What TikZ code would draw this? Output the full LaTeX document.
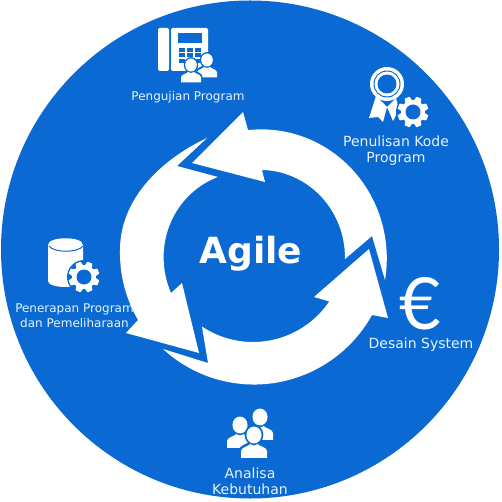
\documentclass[tikz,border=0pt]{standalone}
\usepackage{fontspec}
\setmainfont{DejaVu Sans}
\newfontfamily\eurofont{Lato}
\definecolor{agileblue}{HTML}{0B69D3}
\definecolor{labeltext}{HTML}{E8F3FF}
\tikzset{
  x=1pt,y=-1pt,
  arcto/.style n args={4}{insert path={-- plot[domain=#1:#2,samples=40,smooth] ({253+(#3+(#4-#3)*(\x-#1)/(#2-#1))*cos(\x)},{250+(#3+(#4-#3)*(\x-#1)/(#2-#1))*sin(\x)})}},
  label text/.style={text=labeltext,font=\fontsize{12}{15.5}\selectfont,align=center,inner sep=0pt},
  big label/.style={label text,font=\fontsize{14}{16}\selectfont},
  ring arrow/.style={fill=white},
  icon/.style={fill=white},
  cut/.style={fill=agileblue},
  gear/.pic={
    \fill[cut] (0,0) circle (17);
    \foreach \a in {0,45,...,315}
      \fill[icon,rotate=\a+22.5,rounded corners=0.6pt] (-3.8,-10) -- (-2.7,-15.5) -- (2.7,-15.5) -- (3.8,-10) -- cycle;
    \fill[icon] (0,0) circle (12);
    \fill[cut] (0,0) circle (7.5);
  },
  person/.pic={
    \fill[cut] (0,0) ellipse (7.2 and 7.9);
    \fill[cut] (-11.5,19) -- (-11.5,12) .. controls (-11.5,8) and (-6,7) .. (-3,5) -- (3,5) .. controls (6,7) and (11.5,8) .. (11.5,12) -- (11.5,19) -- cycle;
    \fill[icon] (-10,17.5) -- (-10,12.5) .. controls (-10,9.5) and (-5,9) .. (-2.8,7) .. controls (-1,8.5) and (1,8.5) .. (2.8,7) .. controls (5,9) and (10,9.5) .. (10,12.5) -- (10,17.5) -- cycle;
    \fill[icon] (0,0) ellipse (5.8 and 6.5);
  }
}
\begin{document}
\begin{tikzpicture}
\useasboundingbox (0,0) rectangle (502,502);
\fill[white] (0,0) rectangle (502,502);
\fill[agileblue] (250,249.5) circle (249);

% labels (under the ring arrows)
\node[label text] (test) at (188,97.5) {Pengujian Program};
\node[big label] (code) at (396,151) {Penulisan Kode\\Program};
\node[label text] (deploy) at (74.5,315.5) {Penerapan Program\\dan Pemeliharaan};
\node[big label] (design) at (421,345) {Desain System};
\node[big label] (analysis) at (250,481.5) {Analisa\\Kebutuhan};
\node[text=white,font=\fontsize{36}{38}\selectfont\bfseries,inner sep=0pt] (agile) at (251,254) {Agile};
\node[text=white,font=\eurofont\fontsize{72}{72}\selectfont,inner sep=0pt] (euro) at (420,304) {€};

% ring arrows
\fill[ring arrow] (163,349) -- (208,363) -- (202,327)
  [arcto={123.5}{34}{92}{92}]
  -- (314,297) -- (369,249) -- (388,318) -- (372,315)
  [arcto={28.6}{132.3}{135.6}{133.8}] -- cycle;
\fill[ring arrow] (207,138) -- (177,166) -- (218,177)
  [arcto={244.4}{152.3}{81}{92.6}]
  -- (182,283) -- (199,353) -- (126,333) -- (138,320)
  [arcto={148.7}{180}{134.6}{133}]
  .. controls (120,200) and (160,160) .. (207,138) -- cycle;
\fill[ring arrow] (385,280) -- (372,236) -- (345,259)
  [arcto={365.6}{276.4}{92.4}{80.5}]
  -- (265,182) -- (192,163) -- (243,112) -- (248,130)
  [arcto={267.6}{372.8}{120}{135.4}] -- cycle;

% phone icon
\fill[icon,rounded corners=2pt] (158,28) rectangle (169,71);
\fill[icon,rounded corners=2pt] (171,28) rectangle (208,71);
\fill[cut] (178,33) rectangle (202,43);
\foreach \i in {0,1,2} \foreach \j in {0,1,2}
  \fill[cut] (179+8*\i,48+5.5*\j) rectangle (185+8*\i,52+5.5*\j);
\pic at (207,60) {person};
\pic at (191,65) {person};

% ribbon icon
\fill[icon] (387,84) circle (17);
\fill[cut] (387,84) circle (13.5);
\fill[icon] (387,84) circle (12.5);
\fill[cut] (387,84) circle (9.5);
\fill[icon] (376,96) -- (369,118) -- (378,117) -- (383,122) -- (387,107) -- cycle;
\fill[icon] (387,107) -- (393,121) -- (396,115) -- (400,113) -- (396,98) -- cycle;
\pic at (413,112) {gear};

% database icon
\fill[icon] (48,245) -- (48,281) .. controls (48,289) and (83,289) .. (83,281) -- (83,245) .. controls (83,236) and (48,236) .. (48,245) -- cycle;
\draw[agileblue,line width=1pt] (49,246) .. controls (54,253) and (78,253) .. (83,246);
\pic at (84,277) {gear};

% people icon
\pic[scale=1.3] at (260,417) {person};
\pic[scale=1.3] at (240,425) {person};
\pic[scale=1.3] at (254,435) {person};
\end{tikzpicture}
\end{document}
